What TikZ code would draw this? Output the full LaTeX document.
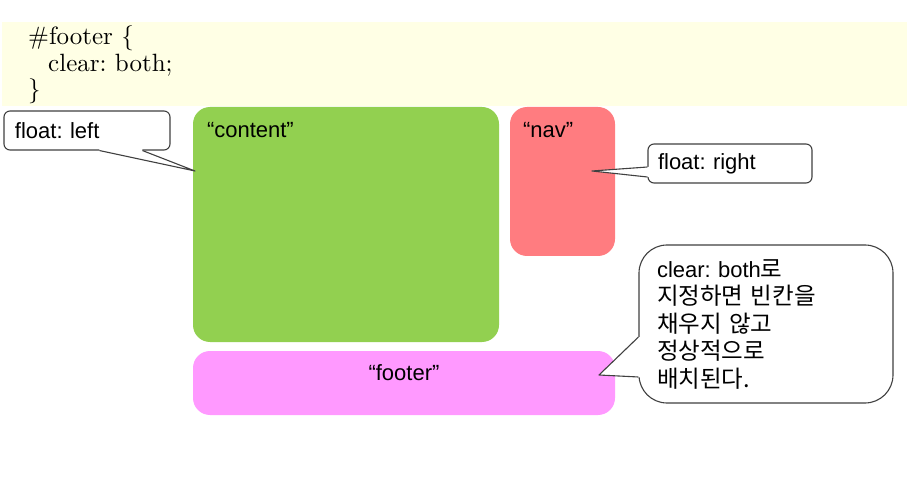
\documentclass[tikz,border=0pt]{standalone}
\usepackage{fontspec}
\setsansfont{Liberation Sans}
\newfontfamily\cjk{Noto Sans CJK KR}
\newfontfamily\codefont{lmroman10-regular.otf}
\usetikzlibrary{positioning,calc}
\definecolor{codebg}{RGB}{255,255,229}
\definecolor{contentgreen}{RGB}{146,208,80}
\definecolor{navred}{RGB}{255,124,128}
\definecolor{footerpink}{RGB}{255,153,255}
\definecolor{calloutline}{RGB}{64,64,64}
\newcommand{\kor}[1]{{\cjk\fontsize{23.5}{27.5}\selectfont #1}}
\tikzset{
  codeline/.style={font=\codefont\fontsize{25}{26.5}\selectfont, inner sep=0pt, anchor=base west},
  block/.style={rounded corners=17pt, inner sep=0pt},
  blocklabel/.style={font=\sffamily\fontsize{22}{26}\selectfont, inner sep=0pt},
  callout/.style={draw=calloutline, line width=1.1pt, fill=white, align=left,
    font=\sffamily\fontsize{22}{27.5}\selectfont, inner ysep=0pt},
  tail/.style={draw=calloutline, line width=1.1pt, line join=round},
}
\begin{document}
\frenchspacing
\begin{tikzpicture}[x=1pt,y=-1pt]
  \useasboundingbox (0,0) rectangle (919,497);
  \fill[codebg] (2,22) rectangle (907,106);
  \node[codeline] (code1) at (28,45) {\#footer \{};
  \node[codeline] (code2) at (48,71.5) {clear: both;};
  \node[codeline] (code3) at (28,98) {\}};

  \node[block, fill=contentgreen, minimum width=306pt, minimum height=235pt] (content) at (346,224.5) {};
  \node[block, fill=navred, minimum width=105pt, minimum height=149pt] (nav) at (562.5,181.5) {};
  \node[block, fill=footerpink, minimum width=422pt, minimum height=64pt] (footer) at (404,383) {};
  \node[blocklabel, below right=15pt and 14pt of content.north west] (contentlbl) {``content''};
  \node[blocklabel, below right=15pt and 13pt of nav.north west] (navlbl) {``nav''};
  \node[blocklabel, below=14pt of footer.north] (footerlbl) {``footer''};

  \node[callout, rounded corners=6pt, inner xsep=11pt, text width=144pt, minimum height=39pt] (left) at (87,130.5) {float: left};
  \node[callout, rounded corners=6pt, inner xsep=10pt, text width=144pt, minimum height=39pt] (right) at (730,163.5) {float: right};
  \node[callout, rounded corners=28pt, inner xsep=18pt, text width=218pt, minimum height=158pt] (both) at (766,324)
    {clear: both\kor{로}\\
     \kor{지정하면 빈칸을}\\
     \kor{채우지 않고}\\
     \kor{정상적으로}\\
     \kor{배치된다.}};

  \coordinate (leftA) at ($(left.south west)+(96,0)$);
  \coordinate (leftB) at ($(left.south west)+(139,0)$);
  \coordinate (leftTip) at (195,171);
  \coordinate (rightA) at ($(right.west)+(0,3.5)$);
  \coordinate (rightB) at ($(right.west)+(0,13.5)$);
  \coordinate (rightTip) at (592,171);
  \coordinate (bothA) at ($(both.west)+(0,13)$);
  \coordinate (bothB) at ($(both.west)+(0,53)$);
  \coordinate (bothTip) at (599,375);

  \fill[white] (leftA) -- (leftTip) -- (leftB) -- ++(0,-3) -- ($(leftA)+(0,-3)$) -- cycle;
  \fill[white] (rightA) -- (rightTip) -- (rightB) -- ++(3,0) -- ($(rightA)+(3,0)$) -- cycle;
  \fill[white] (bothA) -- (bothTip) -- (bothB) -- ++(3,0) -- ($(bothA)+(3,0)$) -- cycle;
  \path[tail]
    (leftA) -- (leftTip) -- (leftB)
    (rightA) -- (rightTip) -- (rightB)
    (bothA) -- (bothTip) -- (bothB);
\end{tikzpicture}
\end{document}
